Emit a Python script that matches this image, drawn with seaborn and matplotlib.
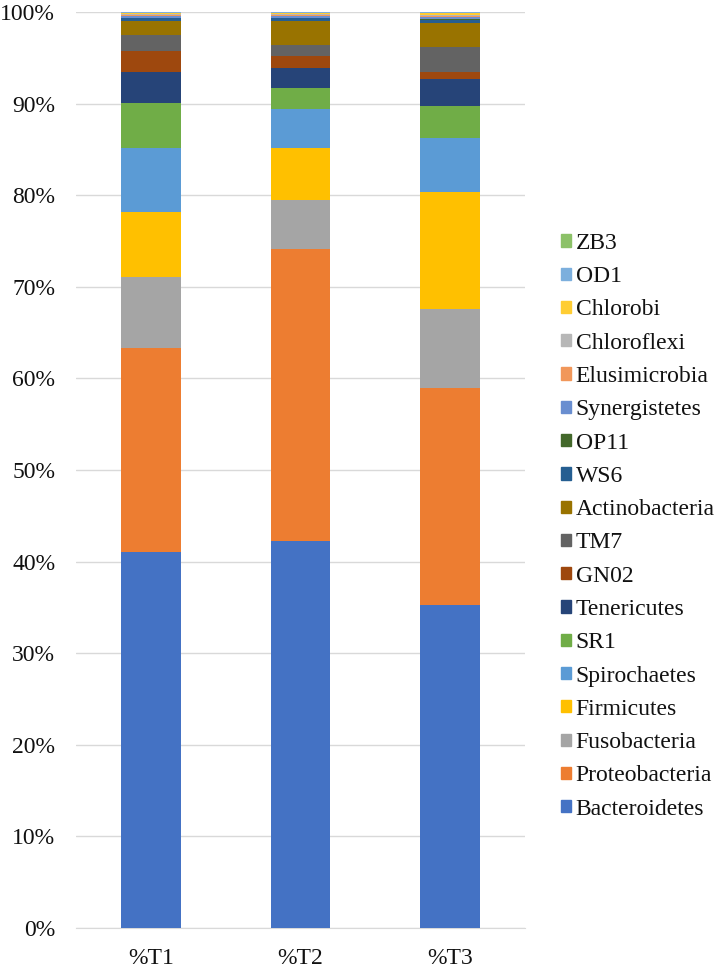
import numpy as np
import pandas as pd
import matplotlib.pyplot as plt
import matplotlib.patches as mpatches
from matplotlib.ticker import PercentFormatter
import seaborn as sns

samples = ['%T1', '%T2', '%T3']

# bottom to top in the stack
phyla = ['Bacteroidetes', 'Proteobacteria', 'Fusobacteria', 'Firmicutes',
         'Spirochaetes', 'SR1', 'Tenericutes', 'GN02', 'TM7', 'Actinobacteria',
         'WS6', 'OP11', 'Synergistetes', 'Elusimicrobia', 'Chloroflexi',
         'Chlorobi', 'OD1', 'ZB3']

t1 = [41.0, 22.3, 7.8, 7.1, 7.0, 4.9, 3.4, 2.2, 1.8, 1.5,
      0.3, 0.1, 0.2, 0.1, 0.1, 0.1, 0.05, 0.05]
t2 = [42.2, 31.9, 5.4, 5.7, 4.2, 2.3, 2.2, 1.3, 1.2, 2.6,
      0.3, 0.1, 0.2, 0.1, 0.1, 0.1, 0.05, 0.05]
t3 = [35.3, 23.6, 8.7, 12.8, 5.9, 3.4, 3.0, 0.8, 2.7, 2.6,
      0.3, 0.15, 0.25, 0.05, 0.1, 0.25, 0.05, 0.05]

colors = ['#4472C4', '#ED7D31', '#A5A5A5', '#FFC000', '#5B9BD5', '#70AD47',
          '#264478', '#9E480E', '#636363', '#997300', '#255E91', '#43682B',
          '#698ED0', '#F1975A', '#B7B7B7', '#FFCD33', '#7CAFDD', '#8CC168']

df = pd.DataFrame({'%T1': t1, '%T2': t2, '%T3': t3}, index=phyla)
cum = df.cumsum()

sns.set_style('white')
plt.rcParams['font.family'] = ['Liberation Serif', 'DejaVu Serif']

fig = plt.figure(figsize=(7.14, 9.71), dpi=100)
ax = fig.add_axes([0.1064, 0.0443, 0.6289, 0.9433])

# draw cumulative totals from the top layer down so each one covers the rest
for name, col in zip(phyla[::-1], colors[::-1]):
    d = pd.DataFrame({'sample': samples, 'value': cum.loc[name, samples].values})
    sns.barplot(data=d, x='sample', y='value', color=col, width=0.4,
                saturation=1, linewidth=0, edgecolor='none', ax=ax, zorder=3)

ax.set_ylim(0, 100)
ax.set_yticks(np.arange(0, 101, 10))
ax.yaxis.set_major_formatter(PercentFormatter(decimals=0))
ax.grid(axis='y', color='#D9D9D9', linewidth=1, zorder=0)
ax.set_axisbelow(True)
ax.set_xlabel('')
ax.set_ylabel('')
for s in ['top', 'right', 'left']:
    ax.spines[s].set_visible(False)
ax.spines['bottom'].set_color('#D9D9D9')
ax.tick_params(axis='y', length=0, pad=15, labelsize=17, labelcolor='#111111')
ax.tick_params(axis='x', length=0, pad=14.5, labelsize=17, labelcolor='#111111')

handles = [mpatches.Patch(color=c, label=p) for p, c in zip(phyla, colors)][::-1]
fig.legend(handles=handles, loc='center left', bbox_to_anchor=(0.786, 0.458),
           frameon=False, fontsize=17, handlelength=0.42, handleheight=0.42,
           handletextpad=0.2, labelspacing=0.52, borderpad=0, borderaxespad=0,
           labelcolor='#111111')

plt.savefig('out.png', dpi=100)
